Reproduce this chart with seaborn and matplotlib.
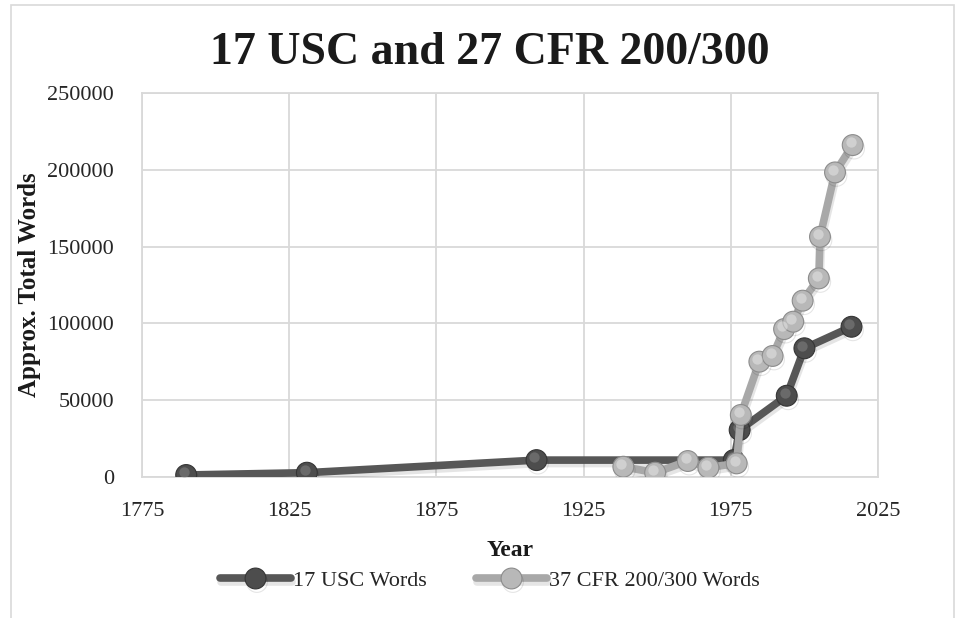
import numpy as np
import pandas as pd
import matplotlib.pyplot as plt
import matplotlib.patheffects as pe
import matplotlib.transforms as mtransforms
from matplotlib.patches import Rectangle
import seaborn as sns

# values
usc_years = [1790, 1831, 1909, 1976, 1978, 1994, 2000, 2016]
usc_words = [1300, 2800, 11000, 11000, 30600, 52900, 83800, 97800]

cfr_years = [1938.5, 1949.3, 1960.4, 1967.4, 1977.0, 1978.4, 1984.7, 1989.2,
             1993.1, 1996.2, 1999.4, 2004.9, 2005.3, 2010.4, 2016.4]
cfr_words = [6700, 2800, 10400, 6100, 8900, 40400, 75100, 78800,
             96300, 101100, 114800, 129300, 156400, 198300, 216100]

x_ticks = [1775, 1825, 1875, 1925, 1975, 2025]
y_ticks = [0, 50000, 100000, 150000, 200000, 250000]

usc_line, usc_ball = '#575757', '#4d4d4d'
cfr_line, cfr_ball = '#a8a8a8', '#b8b8b8'
grid_col = '#d9d9d9'

sns.set_theme(style='white')
plt.rcParams['font.family'] = ['Liberation Serif', 'DejaVu Serif']

fig = plt.figure(figsize=(9.59, 6.18), dpi=100)
ax = fig.add_axes([142 / 959, 1 - 477 / 618, 736 / 959, 384 / 618])

# chart border
fig.patches.append(Rectangle((0.011, -0.02), 0.984, 1.012, transform=fig.transFigure,
                             fill=False, edgecolor=grid_col, linewidth=1.2, zorder=0))

shadow = [pe.SimpleLineShadow(offset=(1, -2.5), shadow_color='#000000', alpha=0.1),
          pe.Normal()]

usc = pd.DataFrame({'year': usc_years, 'words': usc_words})
cfr = pd.DataFrame({'year': cfr_years, 'words': cfr_words})

series = [
    (usc, usc_line, usc_ball, '17 USC Words', 4, '#8f8f8f', '#353535'),
    (cfr, cfr_line, cfr_ball, '37 CFR 200/300 Words', 5, '#eeeeee', '#8c8c8c'),
]

hl_offset = mtransforms.ScaledTranslation(-1.5 / 72, 2 / 72, fig.dpi_scale_trans)

for df, lc, bc, label, z, hl, ec in series:
    sns.lineplot(data=df, x='year', y='words', ax=ax, sort=False, color=lc,
                 linewidth=5.5, marker='o', markersize=15, markerfacecolor=bc,
                 markeredgecolor=ec, markeredgewidth=0.8, zorder=z, label=label,
                 path_effects=shadow)
    # soft highlight on the balls
    ax.scatter(df['year'], df['words'], s=55, color=hl, alpha=0.45, linewidths=0,
               zorder=z + 0.5, transform=ax.transData + hl_offset)

ax.set_xlim(1775, 2025)
ax.set_ylim(0, 250000)
ax.set_xticks(x_ticks)
ax.set_yticks(y_ticks)
ax.grid(True, color=grid_col, linewidth=1.3)
ax.set_axisbelow(True)
for s in ax.spines.values():
    s.set_color(grid_col)
    s.set_linewidth(1.3)
ax.tick_params(axis='both', length=0, labelsize=16, colors='#262626')
ax.tick_params(axis='y', pad=20)
ax.tick_params(axis='x', pad=18)

ax.set_xlabel('Year', fontsize=17, fontweight='bold', color='#1a1a1a', labelpad=14)
ax.set_ylabel('Approx. Total Words', fontsize=18, fontweight='bold', color='#1a1a1a',
              labelpad=5)
fig.text(0.511, 0.915, '17 USC and 27 CFR 200/300', ha='center', va='center',
         fontsize=33, fontweight='bold', color='#1a1a1a')

leg = ax.legend(loc='center', bbox_to_anchor=(490 / 959, 1 - 581 / 618),
                bbox_transform=fig.transFigure, ncol=2, frameon=False,
                fontsize=16, handlelength=3.2, handletextpad=0.1,
                columnspacing=2.2, labelcolor='#262626')

fig.savefig('out.png', dpi=100)
